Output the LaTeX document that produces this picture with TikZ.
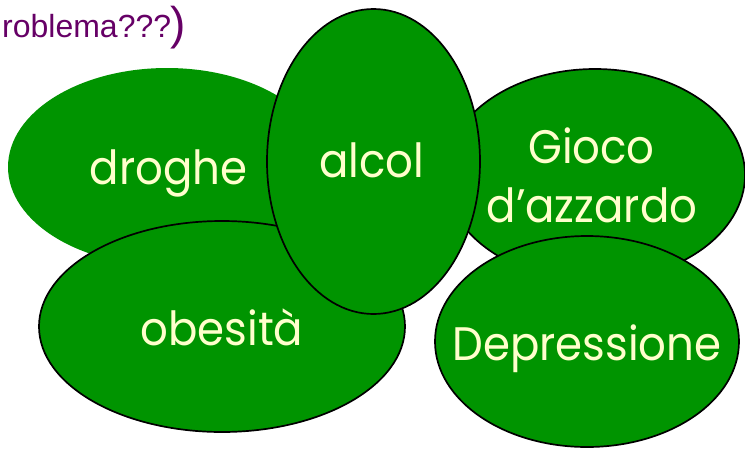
\documentclass[tikz,border=0pt]{standalone}
\usepackage{fontspec}
\setmainfont{Poppins}
\newfontfamily\titlefont{Liberation Sans}
\usetikzlibrary{shapes.geometric}
\definecolor{blobgreen}{RGB}{0,148,0}
\definecolor{labelyellow}{RGB}{255,255,204}
\definecolor{titlepurple}{RGB}{102,0,102}
\newcommand{\squeezed}[1]{\scalebox{0.925}[1]{#1}}
\begin{document}
\begin{tikzpicture}[x=1pt,y=-1pt,
  blob/.style={ellipse, fill=blobgreen, draw=black, line width=1.7pt, inner sep=0pt, outer sep=0pt},
  blobtext/.style={text=labelyellow, font=\fontsize{47}{52}\selectfont, inner sep=0pt, anchor=base},
  titletext/.style={text=titlepurple, inner sep=0pt, anchor=base west}]
\useasboundingbox (0,0) rectangle (745,448);
% ellipses
\node[blob, draw=none, minimum width=318pt, minimum height=198pt] (droghe) at (167,167) {};
\node[blob, minimum width=366pt, minimum height=211pt] (obesita) at (222,326.5) {};
\node[blob, minimum width=300pt, minimum height=212pt] (gioco) at (595,175) {};
\node[blob, minimum width=304pt, minimum height=211pt] (depr) at (587,341.5) {};
\node[blob, minimum width=213pt, minimum height=305pt] (alcol) at (373.5,161.5) {};
% labels
\node[blobtext] (tdroghe) at (168.5,184) {\squeezed{droghe}};
\node[blobtext] (talcol) at (372,177) {\squeezed{alcol}};
\node[blobtext] (tgioco) at (591.5,163) {\squeezed{Gioco}};
\node[blobtext] (tazzardo) at (592,222) {\squeezed{d’azzardo}};
\node[blobtext] (tobesita) at (222,345) {\squeezed{obesità}};
\node[blobtext] (tdepr) at (587,360) {\squeezed{Depressione}};
% title
\node[titletext, font=\titlefont\fontsize{32}{36}\selectfont] (title) at (2,37) {roblema???};
\node[titletext, font=\titlefont\fontsize{46}{50}\selectfont] (paren) at (170,39) {)};
\end{tikzpicture}
\end{document}
